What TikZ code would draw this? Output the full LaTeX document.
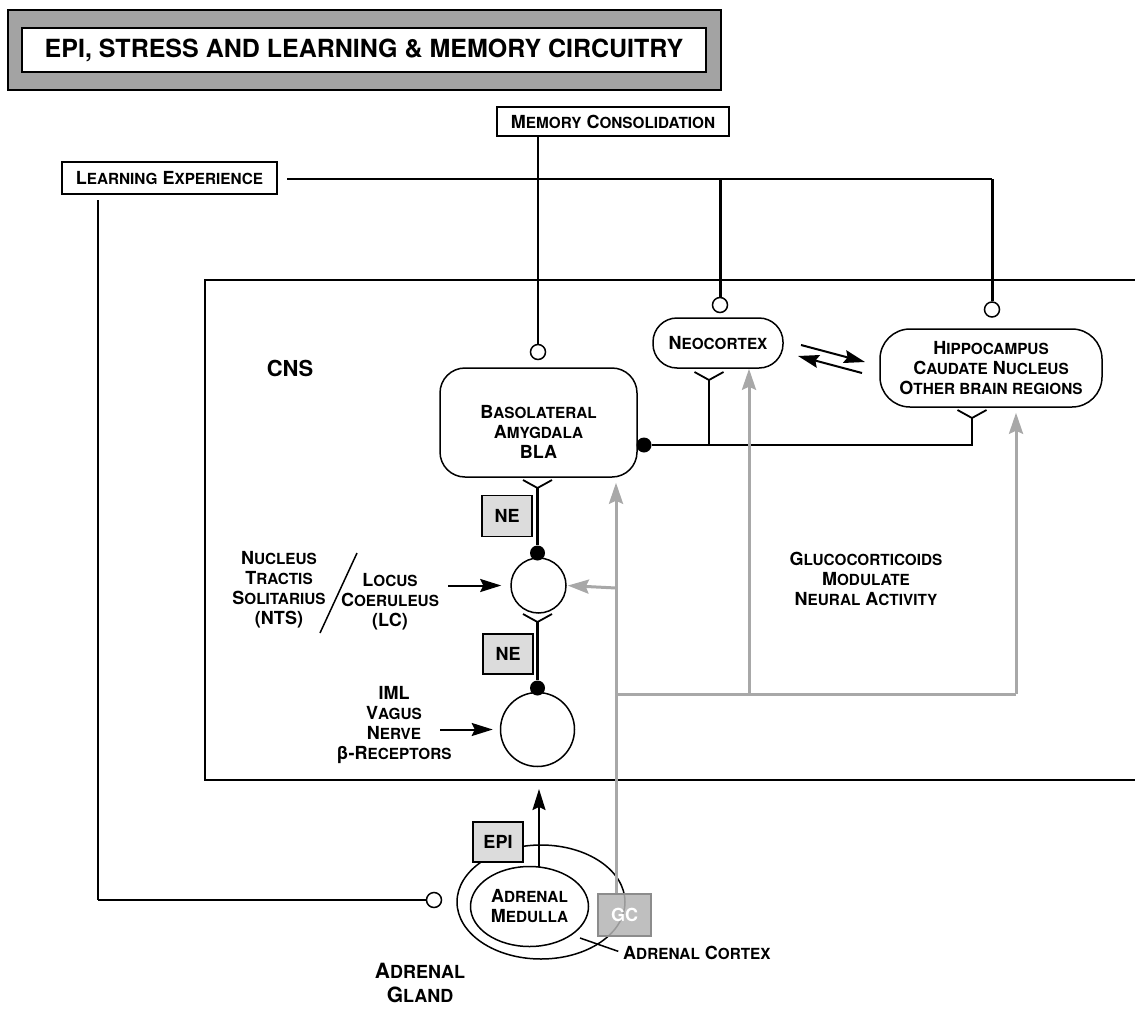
\documentclass[tikz,border=0pt]{standalone}
\usepackage{fontspec}
\setmainfont{TeX Gyre Heros}
\usetikzlibrary{arrows.meta,shapes.geometric,calc}
\definecolor{gcol}{HTML}{A8A8A8}
\definecolor{titlegray}{HTML}{A3A3A3}
\definecolor{chemgray}{HTML}{DCDCDC}
\definecolor{gcfill}{HTML}{B4B4B4}
\definecolor{gcdraw}{HTML}{8C8C8C}
\newcommand\sw[3][15.3]{#2{\fontsize{#1}{20}\selectfont #3}}
\newcommand\labfont{\fontsize{18}{20}\selectfont\bfseries}
\begin{document}
\begin{tikzpicture}[x=1pt,y=-1pt,
  lab/.style={font=\labfont, align=center, inner sep=0pt},
  box/.style={draw, line width=1.3pt, fill=white, inner sep=0pt, font=\labfont},
  rbox/.style={draw, line width=1.5pt, fill=white, inner sep=0pt, font=\labfont, align=center},
  chem/.style={draw, line width=1.5pt, fill=chemgray, minimum width=50pt, minimum height=41pt, inner sep=0pt, font=\labfont},
  ocirc/.style={circle, draw, line width=1.5pt, fill=white, minimum size=15pt, inner sep=0pt},
  dotn/.style={circle, fill=black, minimum size=15pt, inner sep=0pt},
  cell/.style={circle, draw, line width=1.5pt, inner sep=0pt},
  thn/.style={line width=1.5pt},
  thk/.style={line width=3pt},
  recep/.style={line width=1.8pt},
  gline/.style={draw=gcol, line width=3pt},
  garrow/.style={gline, -{Stealth[length=21pt,width=14pt,inset=3pt]}},
  barrow/.style={line width=2pt, -{Stealth[length=21pt,width=13pt,inset=3pt]}}
]
\useasboundingbox (0,0) rectangle (1135,1017);

% title
\node[draw, line width=2pt, fill=titlegray, minimum width=713pt, minimum height=80pt] (tout) at (364.5,50) {};
\node[draw, line width=1.5pt, fill=white, minimum width=684pt, minimum height=44pt, inner sep=0pt,
      font=\fontsize{25}{30}\selectfont\bfseries] (tin) at (364,50) {EPI, STRESS AND LEARNING \& MEMORY CIRCUITRY};

% top boxes
\node[box, minimum width=232pt, minimum height=29pt] (mc) at (613,121.5) {\sw{M}{EMORY} \sw{C}{ONSOLIDATION}};
\node[box, minimum width=215pt, minimum height=32pt] (le) at (169.5,178) {\sw{L}{EARNING} \sw{E}{XPERIENCE}};

% CNS frame
\draw[thn] (1137,280) -- (205,280) -- (205,780) -- (1137,780);
\node[font=\fontsize{22}{26}\selectfont\bfseries, inner sep=0pt] (cns) at (290,368) {CNS};

% brain regions
\node[rbox, minimum width=197pt, minimum height=109pt, rounded corners=25pt] (bla) at (538.5,422.5) {};
\node[lab] (blatxt) at (538.5,432) {\sw{B}{ASOLATERAL}\\\sw{A}{MYGDALA}\\BLA};
\node[rbox, minimum width=130pt, minimum height=50pt, rounded corners=24pt] (neo) at (718,343) {\sw{N}{EOCORTEX}};
\node[rbox, minimum width=222pt, minimum height=78pt, rounded corners=30pt] (hip) at (991,368)
  {\sw{H}{IPPOCAMPUS}\\\sw{C}{AUDATE} \sw{N}{UCLEUS}\\\sw{O}{THER BRAIN REGIONS}};

% learning / memory lines
\coordinate (hstart) at (287,179);
\coordinate (hend) at (992,179);
\coordinate (ncj) at (720,179);
\draw[thn] (hstart) -- (hend);
\node[ocirc] (hc) at (992,309.5) {};
\node[ocirc] (nc) at (720,305) {};
\node[ocirc] (bc) at (538,352) {};
\draw[thk] (hend) -- (hc.north);
\draw[thk] (ncj) -- (nc.north);
\draw[thn] (mc.south -| bc) -- (bc.north);

\coordinate (lecorner) at (98,900);
\coordinate (lestart) at (98,200);
\node[ocirc] (agc) at (434,900) {};
\draw[thn] (lestart) -- (lecorner);
\draw[line width=2.2pt] (lecorner) -- (agc.west);

% cells
\node[cell, minimum size=55pt] (lc) at (538.5,585.5) {};
\node[cell, minimum size=74pt] (iml) at (537.5,729.5) {};

% receptors
\coordinate (y1) at (537.5,488);
\coordinate (y2) at (537.5,622);
\coordinate (y3) at (709,380);
\coordinate (y4) at (972,418);
\foreach \c in {y1,y2,y3,y4}{
  \draw[recep] ($(\c)+(-14.5,-8)$) -- (\c) -- ($(\c)+(14.5,-8)$);
}
\node[dotn] (d1) at (537.5,553) {};
\node[dotn] (d2) at (537.5,688) {};
\node[dotn] (d3) at (644,445) {};
\draw[thk] (y1) -- (d1);
\draw[thk] (y2) -- (d2);
\coordinate (hj) at (y4 |- d3);
\draw[line width=2pt] (d3) -- (hj) -- (y4);
\draw[line width=2pt] (y3) -- (y3 |- d3);

% NE boxes
\node[chem] (ne1) at (507,516) {NE};
\node[chem, minimum height=40pt] (ne2) at (508,654) {NE};

% neocortex <-> hippocampus
\coordinate (da1s) at (801,345);
\coordinate (da1e) at (865,362);
\coordinate (da2s) at (862,373);
\coordinate (da2e) at (798,356);
\draw[barrow] (da1s) -- (da1e);
\draw[barrow] (da2s) -- (da2e);

% labels on the left
\node[lab] (nts) at (279,590) {\sw{N}{UCLEUS}\\\sw{T}{RACTIS}\\\sw{S}{OLITARIUS}\\(NTS)};
\coordinate (sl1) at (357,553);
\coordinate (sl2) at (320,633);
\draw[thn] (sl1) -- (sl2);
\node[lab] (lctxt) at (390,602) {\sw{L}{OCUS}\\\sw{C}{OERULEUS}\\(LC)};
\node[lab] (imltxt) at (394,725) {IML\\\sw{V}{AGUS}\\\sw{N}{ERVE}\\β-\sw{R}{ECEPTORS}};
\coordinate (a1s) at (448,585.5);
\coordinate (a2s) at (440,729.5);
\draw[barrow, shorten >=9pt] (a1s) -- (lc.west);
\draw[barrow, shorten >=7pt] (a2s) -- (iml.west);

\node[lab] (gluc) at (866,579) {\sw{G}{LUCOCORTICOIDS}\\\sw{M}{ODULATE}\\\sw{N}{EURAL} \sw{A}{CTIVITY}};

% adrenal gland
\node[ellipse, draw, line width=1.5pt, minimum width=168pt, minimum height=114pt, inner sep=0pt] (adr) at (541,902) {};
\node[ellipse, draw, line width=1.5pt, minimum width=118pt, minimum height=80pt, inner sep=0pt, font=\labfont, align=center] (med) at (529.5,906.5) {\sw{A}{DRENAL}\\\sw{M}{EDULLA}};
\node[chem, minimum height=40pt] (epi) at (498,842) {EPI};
\coordinate (epis) at (539,867);
\coordinate (epie) at (539,789);
\draw[barrow] (epis) -- (epie);

\node[lab, anchor=west] (ctx) at (623,953) {\sw{A}{DRENAL} \sw{C}{ORTEX}};
\coordinate (cl1) at (580,938);
\draw[thn, shorten >=5pt] (cl1) -- (ctx.west);

\node[font=\fontsize{21}{24}\selectfont\bfseries, align=center, inner sep=0pt] (gland) at (420,983) {\sw[18]{A}{DRENAL}\\\sw[18]{G}{LAND}};

% glucocorticoid pathway
\node[draw=gcdraw, line width=1.5pt, fill=gcfill, fill opacity=0.85, text opacity=1, text=white,
      minimum width=53pt, minimum height=42pt, inner sep=0pt, font=\labfont] (gc) at (624.5,915) {GC};
\coordinate (g1) at (616,588);
\coordinate (g2) at (616,694);
\coordinate (g3) at (749,694);
\coordinate (g4) at (1016,694);
\draw[garrow, shorten >=5pt] (gc.north -| g1) -- (bla.south -| g1);
\draw[garrow, shorten >=1pt] (g1) -- (lc.east);
\draw[gline] (g2) -- (g4);
\draw[garrow] (g3) -- (neo.south -| g3);
\draw[garrow, shorten >=5pt] (g4) -- (hip.south -| g4);

\end{tikzpicture}
\end{document}
